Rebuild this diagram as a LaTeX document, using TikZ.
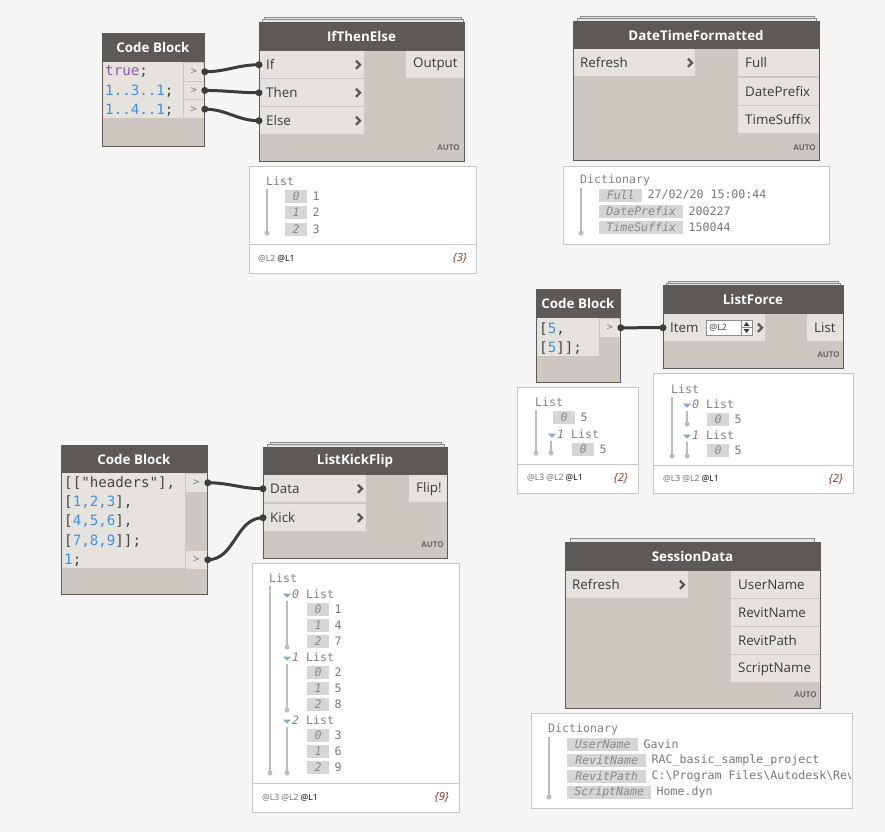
\documentclass[tikz,border=0pt]{standalone}
\usepackage{fontspec}
\setmainfont{Open Sans}
\newfontfamily\monof{DejaVu Sans Mono}
\usepackage{xcolor}
\usepackage{tikz}

\definecolor{bgc}{HTML}{F5F5F5}
\definecolor{hdrc}{HTML}{5C5957}
\definecolor{bodyc}{HTML}{CCC8C1}
\definecolor{portc}{HTML}{E6E3DF}
\definecolor{wirec}{HTML}{3C3C3C}
\definecolor{stackc}{HTML}{E4E4E4}
\definecolor{stackl}{HTML}{8C8C8C}
\definecolor{prevc}{HTML}{C8C8C8}
\definecolor{idxc}{HTML}{D6D6D6}
\definecolor{idxt}{HTML}{8A8A8A}
\definecolor{ptxt}{HTML}{8A7F80}
\definecolor{valc}{HTML}{787878}
\definecolor{linec}{HTML}{BDBDBD}
\definecolor{tric}{HTML}{7FA7D8}
\definecolor{numc}{HTML}{3F8FE8}
\definecolor{kwc}{HTML}{8B5BA6}
\definecolor{codec}{HTML}{444444}
\definecolor{autoc}{HTML}{6A6764}
\definecolor{textc}{HTML}{3A3A3A}
\definecolor{footc}{HTML}{6B6B6B}
\definecolor{cntc}{HTML}{8C2E1E}

\newlength\px
\setlength\px{0.03cm}

\newcommand\titlefont{\fontsize{11.4}{13}\selectfont\bfseries}
\newcommand\portfont{\fontsize{11.4}{13}\selectfont}
\newcommand\codefont{\monof\fontsize{12.1}{14}\selectfont}
\newcommand\prevfont{\monof\fontsize{9.9}{11}\selectfont}
\newcommand\autofont{\fontsize{6.8}{8}\selectfont\bfseries}
\newcommand\footfont{\fontsize{7.3}{8}\selectfont}
\newcommand\cntfont{\fontsize{9.5}{11}\selectfont\itshape}

% preview entry: name, x, y, box width, index, value
\newcommand\pentry[6]{%
    \node[idx, minimum width=#4\px] (#1) at (#2,#3) {#5};
    \node[pval] (#1v) at ([xshift=5\px]#1.east) {#6};}
\newcommand\listtri[2]{\fill[tric] (#1-4,#2-0.5) -- (#1+4,#2-0.5) -- (#1,#2+3.5) -- cycle;}

\tikzset{
    dynframe/.style = {draw=hdrc, line width=1\px},
    title/.style = {text=white, font=\titlefont, inner sep=0pt},
    stack/.style = {fill=stackc, draw=stackl, line width=0.8\px},
    inport/.style = {fill=portc, anchor=north west, minimum height=27\px, inner xsep=7\px, inner ysep=0pt, font=\portfont, text=textc, align=left},
    codeport/.style = {fill=portc, draw=bodyc, line width=0.8\px, anchor=north west, minimum width=21\px, minimum height=18.7\px, inner sep=0pt, font=\monof\fontsize{9}{10}\selectfont, text=gray},
    codeline/.style = {anchor=west, inner sep=0pt, font=\codefont, text=codec},
    autotag/.style = {anchor=east, inner sep=0pt, font=\autofont, text=autoc},
    wire/.style = {draw=wirec, line width=3\px},
    preview/.style = {fill=white, draw=prevc, line width=1\px},
    ptext/.style = {anchor=west, inner sep=0pt, font=\prevfont, text=ptxt},
    pval/.style = {ptext, text=valc},
    idx/.style = {fill=idxc, anchor=west, inner sep=0pt, minimum height=13\px, font=\prevfont\itshape, text=idxt},
    tree/.style = {draw=linec, line width=1.3\px},
    foot/.style = {anchor=west, inner sep=0pt, font=\footfont, text=footc},
    itemcount/.style = {anchor=east, inner sep=0pt, font=\cntfont, text=cntc},
    spinbox/.style = {fill=white, draw=stackl, line width=0.8\px, anchor=north west, minimum height=15\px, inner xsep=3\px, inner ysep=0pt, text width=40\px, align=left, font=\fontsize{7.5}{9}\selectfont, text=textc},
    chevron/.pic = {\draw[draw=hdrc, line width=2.4\px] (-2.5,-4) -- (1.5,0) -- (-2.5,4);}
}

\begin{document}
\begin{tikzpicture}[x=0.03cm, y=-0.03cm]
    \fill[bgc] (0,0) rectangle (885,832);
    \useasboundingbox (0,0) rectangle (885,832);

    % Code Block -> IfThenElse
    \fill[bodyc] (102,33) rectangle (204,146);
    \fill[hdrc] (102,33) rectangle (204,62);
    \node[title] (cb1T) at (153,47.5) {Code Block};
    \fill[portc] (102,62) rectangle (183,118);
    \node[codeport] (cb1o1) at (183,62) {>};
    \node[codeport] (cb1o2) at (183,80.7) {>};
    \node[codeport] (cb1o3) at (183,99.4) {>};
    \node[codeline] (cb1l1) at (105,72) {\textcolor{kwc}{true};};
    \node[codeline] (cb1l2) at (105,91) {\textcolor{numc}{1..3..1};};
    \node[codeline] (cb1l3) at (105,110) {\textcolor{numc}{1..4..1};};
    \draw[dynframe] (102,33) rectangle (204,146);

    \filldraw[stack] (264,17) rectangle (461,22);
    \filldraw[stack] (262,19.5) rectangle (463,22);
    \fill[bodyc] (259,22) rectangle (464,161);
    \fill[hdrc] (259,22) rectangle (464,51);
    \node[title] (iteT) at (361.5,36.5) {IfThenElse};
    \node[inport, text width=91\px] (iteIf) at (259,51) {If};
    \node[inport, text width=91\px] (iteThen) at (259,79) {Then};
    \node[inport, text width=91\px] (iteElse) at (259,107) {Else};
    \path (iteIf.east) ++(-6,0) pic {chevron};
    \path (iteThen.east) ++(-6,0) pic {chevron};
    \path (iteElse.east) ++(-6,0) pic {chevron};
    \node[inport, text width=44\px] (iteOut) at (406,51) {Output};
    \node[autotag] (iteA) at (460,148) {AUTO};
    \draw[dynframe] (259,22) rectangle (464,161);

    \draw[wire] (cb1o1.east) to[out=0,in=180] (iteIf.west);
    \draw[wire] (cb1o2.east) to[out=0,in=180] (iteThen.west);
    \draw[wire] (cb1o3.east) to[out=0,in=180] (iteElse.west);
    \fill[wirec] (cb1o1.east) circle (3.5\px) (cb1o2.east) circle (3.5\px) (cb1o3.east) circle (3.5\px);
    \fill[wirec] (iteIf.west) circle (3.5\px) (iteThen.west) circle (3.5\px) (iteElse.west) circle (3.5\px);

    \filldraw[preview] (249,166) rectangle (476,273);
    \draw[prevc, line width=1\px] (249,244) -- (476,244);
    \node[ptext] (iteL) at (266,181) {List};
    \draw[tree] (267,189) -- (267,232);
    \fill[linec] (267,233) circle (2.5\px);
    \pentry{iteP0}{285}{196}{22}{0}{1}
    \pentry{iteP1}{285}{212}{22}{1}{2}
    \pentry{iteP2}{285}{229}{22}{2}{3}
    \node[foot] (iteF) at (258,258.5) {@L2 \textcolor{black}{@L1}};
    \node[itemcount] (iteN) at (467,258.5) {\{3\}};

    % DateTimeFormatted
    \filldraw[stack] (580,16.5) rectangle (814,21);
    \filldraw[stack] (577,18.5) rectangle (816,21);
    \fill[bodyc] (573,21) rectangle (819,160);
    \fill[hdrc] (573,21) rectangle (819,49);
    \node[title] (dtfT) at (696,35) {DateTimeFormatted};
    \node[inport, text width=108\px] (dtfRef) at (573,49) {Refresh};
    \path (dtfRef.east) ++(-5,0) pic {chevron};
    \node[inport, text width=67\px] (dtfFull) at (738,49) {Full};
    \node[inport, text width=67\px] (dtfDate) at (738,77.5) {DatePrefix};
    \node[inport, text width=67\px] (dtfTime) at (738,105.5) {TimeSuffix};
    \node[autotag] (dtfA) at (816,148) {AUTO};
    \draw[dynframe] (573,21) rectangle (819,160);

    \filldraw[preview] (563,166) rectangle (829,244);
    \node[ptext] (dtfL) at (580,180) {Dictionary};
    \draw[tree] (581,188) -- (581,231);
    \fill[linec] (581,233) circle (2.5\px);
    \pentry{dtfP0}{599}{195}{43}{Full}{27/02/20 15:00:44}
    \pentry{dtfP1}{599}{211}{84}{DatePrefix}{200227}
    \pentry{dtfP2}{599}{227}{84}{TimeSuffix}{150044}

    % Code Block -> ListForce
    \fill[bodyc] (536,289) rectangle (620,382);
    \fill[hdrc] (536,289) rectangle (620,318);
    \node[title] (cb2T) at (578,303.5) {Code Block};
    \fill[portc] (536,318) rectangle (599,356);
    \node[codeport] (cb2o1) at (599,318) {>};
    \node[codeline] (cb2l1) at (539,329) {[\textcolor{numc}{5},};
    \node[codeline] (cb2l2) at (539,348) {[\textcolor{numc}{5}]];};
    \draw[dynframe] (536,289) rectangle (620,382);

    \filldraw[stack] (668,281) rectangle (838,285);
    \filldraw[stack] (666,283) rectangle (840,285);
    \fill[bodyc] (663,285) rectangle (843,368);
    \fill[hdrc] (663,285) rectangle (843,314);
    \node[title] (lfT) at (753,299.5) {ListForce};
    \node[inport, text width=88\px] (lfItem) at (663,314) {Item};
    \path (lfItem.east) ++(-5,0) pic {chevron};
    \node[spinbox] (lfSpin) at (706,320) {@L2};
    \draw[stackl, line width=0.8\px] (741,320) -- (741,335) (741,327.5) -- (752,327.5);
    \fill[textc] (743.5,326) -- (749.5,326) -- (746.5,322) -- cycle;
    \fill[textc] (743.5,329) -- (749.5,329) -- (746.5,333) -- cycle;
    \node[inport, text width=22\px] (lfList) at (807,314) {List};
    \node[autotag] (lfA) at (840,355) {AUTO};
    \draw[dynframe] (663,285) rectangle (843,368);

    \draw[wire] (cb2o1.east) -- (lfItem.west);
    \fill[wirec] (cb2o1.east) circle (3.5\px) (lfItem.west) circle (3.5\px);

    \filldraw[preview] (517,387) rectangle (638,493);
    \draw[prevc, line width=1\px] (517,464) -- (638,464);
    \node[ptext] (cb2L) at (535,402) {List};
    \draw[tree] (536,410) -- (536,451);
    \fill[linec] (536,453) circle (2.5\px);
    \pentry{cb2P0}{553}{417}{22}{0}{5}
    \listtri{552}{434}
    \node[ptext] (cb2S1) at (557,434) {{\itshape 1} List};
    \draw[tree] (551,441) -- (551,451);
    \fill[linec] (551,453) circle (2.5\px);
    \pentry{cb2P1}{572}{449}{22}{0}{5}
    \node[foot] (cb2F) at (527,478) {@L3 @L2 \textcolor{black}{@L1}};
    \node[itemcount] (cb2N) at (628,478) {\{2\}};

    \filldraw[preview] (653,373) rectangle (853,493);
    \draw[prevc, line width=1\px] (653,465) -- (853,465);
    \node[ptext] (lfL) at (671,389) {List};
    \draw[tree] (672,397) -- (672,454);
    \fill[linec] (672,456) circle (2.5\px);
    \listtri{687}{404}
    \node[ptext] (lfS0) at (692,404) {{\itshape 0} List};
    \draw[tree] (687,411) -- (687,422);
    \fill[linec] (687,424) circle (2.5\px);
    \pentry{lfP0}{707}{419}{22}{0}{5}
    \listtri{687}{435}
    \node[ptext] (lfS1) at (692,435) {{\itshape 1} List};
    \draw[tree] (687,442) -- (687,454);
    \fill[linec] (687,456) circle (2.5\px);
    \pentry{lfP1}{707}{450}{22}{0}{5}
    \node[foot] (lfF) at (663,479) {@L3 @L2 \textcolor{black}{@L1}};
    \node[itemcount] (lfN) at (843,479) {\{2\}};

    % Code Block -> ListKickFlip
    \fill[bodyc] (61,445) rectangle (207,594);
    \fill[hdrc] (61,445) rectangle (207,473);
    \node[title] (cb3T) at (134,459) {Code Block};
    \fill[portc] (61,473) rectangle (185,568);
    \node[codeport, minimum width=22\px] (cb3o1) at (185,473) {>};
    \node[codeport, minimum width=22\px] (cb3o2) at (185,550) {>};
    \node[codeline] (cb3l1) at (64,483) {[["headers"],};
    \node[codeline] (cb3l2) at (64,502) {[\textcolor{numc}{1,2,3}],};
    \node[codeline] (cb3l3) at (64,521) {[\textcolor{numc}{4,5,6}],};
    \node[codeline] (cb3l4) at (64,541) {[\textcolor{numc}{7,8,9}]];};
    \node[codeline] (cb3l5) at (64,560) {\textcolor{numc}{1};};
    \draw[dynframe] (61,445) rectangle (207,594);

    \filldraw[stack] (270,442.5) rectangle (441,447);
    \filldraw[stack] (267,444.5) rectangle (444,447);
    \fill[bodyc] (263,447) rectangle (447,558);
    \fill[hdrc] (263,447) rectangle (447,475);
    \node[title] (lkfT) at (355,461) {ListKickFlip};
    \node[inport, text width=89\px] (lkfData) at (263,475) {Data};
    \node[inport, text width=89\px] (lkfKick) at (263,504) {Kick};
    \path (lkfData.east) ++(-6,0) pic {chevron};
    \path (lkfKick.east) ++(-6,0) pic {chevron};
    \node[inport, text width=24\px] (lkfFlip) at (409,475) {Flip!};
    \node[autotag] (lkfA) at (444,545) {AUTO};
    \draw[dynframe] (263,447) rectangle (447,558);

    \draw[wire] (cb3o1.east) to[out=0,in=180] (lkfData.west);
    \draw[wire] (cb3o2.east) to[out=0,in=180] (lkfKick.west);
    \fill[wirec] (cb3o1.east) circle (3.5\px) (cb3o2.east) circle (3.5\px);
    \fill[wirec] (lkfData.west) circle (3.5\px) (lkfKick.west) circle (3.5\px);

    \filldraw[preview] (252,563) rectangle (459,812);
    \draw[prevc, line width=1\px] (252,783) -- (459,783);
    \node[ptext] (lkfL) at (269,578) {List};
    \draw[tree] (270,586) -- (270,771);
    \fill[linec] (270,773) circle (2.5\px);
    \listtri{287}{594}
    \node[ptext] (lkfS0) at (292,594) {{\itshape 0} List};
    \draw[tree] (287,601) -- (287,645);
    \fill[linec] (287,647) circle (2.5\px);
    \pentry{lkfP00}{307}{609}{22}{0}{1}
    \pentry{lkfP01}{307}{625}{22}{1}{4}
    \pentry{lkfP02}{307}{641}{22}{2}{7}
    \listtri{287}{657}
    \node[ptext] (lkfS1) at (292,657) {{\itshape 1} List};
    \draw[tree] (287,664) -- (287,708);
    \fill[linec] (287,710) circle (2.5\px);
    \pentry{lkfP10}{307}{672}{22}{0}{2}
    \pentry{lkfP11}{307}{688}{22}{1}{5}
    \pentry{lkfP12}{307}{704}{22}{2}{8}
    \listtri{287}{720}
    \node[ptext] (lkfS2) at (292,720) {{\itshape 2} List};
    \draw[tree] (287,727) -- (287,771);
    \fill[linec] (287,773) circle (2.5\px);
    \pentry{lkfP20}{307}{735}{22}{0}{3}
    \pentry{lkfP21}{307}{751}{22}{1}{6}
    \pentry{lkfP22}{307}{767}{22}{2}{9}
    \node[foot] (lkfF) at (262,797.5) {@L3 @L2 \textcolor{black}{@L1}};
    \node[itemcount] (lkfN) at (449,797.5) {\{9\}};

    % SessionData
    \filldraw[stack] (570,538) rectangle (814,542);
    \fill[bodyc] (565,542) rectangle (820,708);
    \fill[hdrc] (565,542) rectangle (820,571);
    \node[title] (sdT) at (692.5,556.5) {SessionData};
    \node[inport, text width=109\px] (sdRef) at (565,571) {Refresh};
    \path (sdRef.east) ++(-6,0) pic {chevron};
    \node[inport, text width=75\px] (sdUser) at (731,571) {UserName};
    \node[inport, text width=75\px] (sdRName) at (731,599) {RevitName};
    \node[inport, text width=75\px] (sdRPath) at (731,627) {RevitPath};
    \node[inport, text width=75\px] (sdScript) at (731,655) {ScriptName};
    \node[autotag] (sdA) at (817,695) {AUTO};
    \draw[dynframe] (565,542) rectangle (820,708);

    \filldraw[preview] (531,713) rectangle (852,808);
    \node[ptext] (sdL) at (548,729) {Dictionary};
    \draw[tree] (549,737) -- (549,795);
    \fill[linec] (549,797) circle (2.5\px);
    \pentry{sdP0}{567}{744}{71}{UserName}{Gavin}
    \pentry{sdP1}{567}{760}{79}{RevitName}{RAC\_basic\_sample\_project}
    \begin{scope}
        \clip (531,713) rectangle (850,808);
        \pentry{sdP2}{567}{776}{79}{RevitPath}{C:\textbackslash Program Files\textbackslash Autodesk\textbackslash Rev}
    \end{scope}
    \pentry{sdP3}{567}{792}{84}{ScriptName}{Home.dyn}
\end{tikzpicture}
\end{document}
